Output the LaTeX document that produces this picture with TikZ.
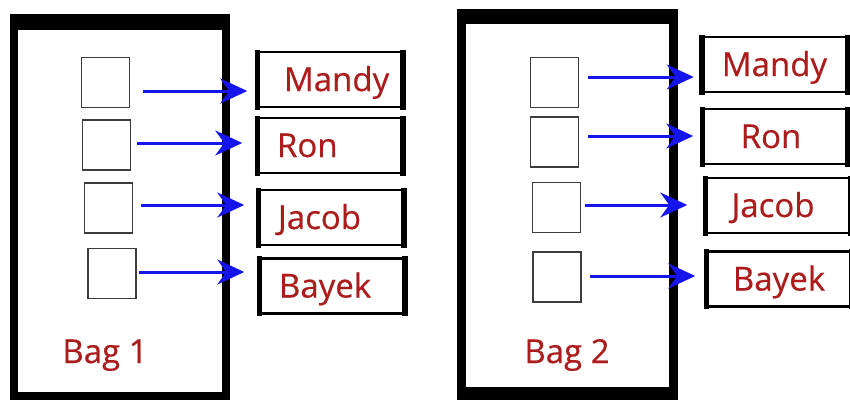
\documentclass[tikz,border=0pt]{standalone}
\usepackage{fontspec}
\setmainfont{Open Sans}
\newfontfamily\labelfont{Open Sans}[FakeBold=0.5]
\usetikzlibrary{arrows.meta,calc}
\definecolor{namered}{RGB}{172,28,28}
\definecolor{arrblue}{RGB}{20,20,235}
\definecolor{boxgray}{RGB}{60,60,60}
\tikzset{
  bagframe/.style={draw=black,fill=white,inner sep=0pt},
  slotbox/.style={draw=boxgray,line width=1.5pt,fill=white,minimum width=48pt,minimum height=50pt,inner sep=0pt},
  namebox/.style={draw=black,line width=2.5pt,fill=white,minimum width=143pt,minimum height=55pt,inner ysep=0pt,
    text height=25pt,text depth=2pt,text=namered,font=\labelfont\fontsize{33}{36}\selectfont},
  nameL/.style={namebox,text width=106pt,inner xsep=18.5pt,align=left},
  nameC/.style={namebox,text width=120pt,inner xsep=11.5pt,align=center},
  sidebar/.style={line width=5.5pt,line cap=butt},
  arr/.style={draw=arrblue,line width=3pt,-{Stealth[length=27pt,width=25pt,inset=9pt]}},
  baglabel/.style={text=namered,font=\labelfont\fontsize{33}{36}\selectfont,inner sep=0pt,anchor=base},
}
\begin{document}
\begin{tikzpicture}[x=1pt,y=-1pt]
\useasboundingbox (0,0) rectangle (850,400);
\fill[white] (0,0) rectangle (850,400);
% ---------- Bag 1 ----------
\node[bagframe,line width=8pt,minimum width=212pt,minimum height=378pt] (bag1) at (120,207) {};
\fill[black] (10,14) rectangle (230,30);
\node[slotbox] (s1) at (105.5,82.5) {};
\node[slotbox] (s2) at (106.5,145) {};
\node[slotbox] (s3) at (108.5,208) {};
\node[slotbox] (s4) at (112,273.5) {};
\node[nameL] (m1) at (330,79.5) {\hspace*{7pt}Mandy};
\node[nameL] (r1) at (330,145.5) {Ron};
\node[nameL] (j1) at (331,217.5) {Jacob};
\node[nameL] (b1) at (332,286) {Bayek};
\foreach \n in {m1,r1,j1,b1}{
  \draw[sidebar] ([yshift=1.25pt]\n.north west) -- ([yshift=-1.25pt]\n.south west);
  \draw[sidebar] ([yshift=1.25pt]\n.north east) -- ([yshift=-1.25pt]\n.south east);
}
\draw[arr] ($(s1.east)+(13,8.5)$) -- ($(m1.west |- 0,91)+(-10,0)$);
\draw[arr] ($(s2.east)+(6,-2)$) -- ($(r1.west |- 0,143)+(-15,0)$);
\draw[arr] ($(s3.east)+(8,-3)$) -- ($(j1.west |- 0,205)+(-14,0)$);
\draw[arr] ($(s4.east)+(2,-1.5)$) -- ($(b1.west |- 0,272)+(-15,0)$);
\node[baglabel] (bl1) at (105,363) {Bag 1};
% ---------- Bag 2 ----------
\node[bagframe,line width=9pt,minimum width=212pt,minimum height=378pt] (bag2) at (567.5,202.5) {};
\fill[black] (457,9) rectangle (678,24);
\fill[black] (457,387) rectangle (678,400);
\node[slotbox] (s5) at (554.5,82.5) {};
\node[slotbox] (s6) at (554.5,142) {};
\node[slotbox] (s7) at (556.5,207.5) {};
\node[slotbox] (s8) at (557,277) {};
\node[nameC] (m2) at (774.5,64.5) {Mandy};
\node[nameC] (r2) at (775,136.5) {\hspace*{-8pt}Ron};
\node[nameC] (j2) at (778,205.5) {\hspace*{-10pt}Jacob};
\node[nameC] (b2) at (779,279) {Bayek};
\foreach \n in {m2,r2,j2,b2}{
  \draw[sidebar] ([yshift=1.25pt]\n.north west) -- ([yshift=-1.25pt]\n.south west);
  \draw[sidebar] ([yshift=1.25pt]\n.north east) -- ([yshift=-1.25pt]\n.south east);
}
\draw[arr] ($(s5.east)+(9,-5.5)$) -- ($(m2.west |- 0,77)+(-8,0)$);
\draw[arr] ($(s6.east)+(9,-6)$) -- ($(r2.west |- 0,136)+(-9,0)$);
\draw[arr] ($(s7.east)+(4,-2.5)$) -- ($(j2.west |- 0,205)+(-18,0)$);
\draw[arr] ($(s8.east)+(8,-1)$) -- ($(b2.west |- 0,276)+(-11,0)$);
\node[baglabel] (bl2) at (567,363) {Bag 2};
\end{tikzpicture}
\end{document}
